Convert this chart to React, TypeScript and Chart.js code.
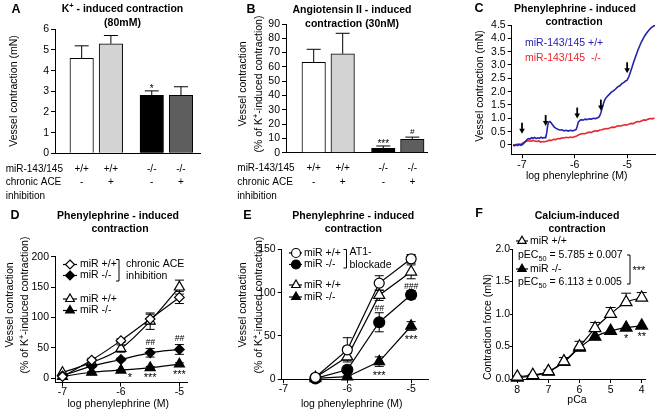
import React, { useEffect, useRef } from 'react';
import { Chart, registerables } from 'chart.js';

Chart.register(...registerables);

const FONT = "'Liberation Sans', Arial, Helvetica, sans-serif";
const W = 660;
const H = 412;
Chart.defaults.font.family = FONT;

// ---------------- Panel A : K+ induced contraction ----------------
const aGenotype = ['+/+', '+/+', '-/-', '-/-'];
const aAce = ['-', '+', '-', '+'];
const aValues = [4.6, 5.3, 2.8, 2.8];
const aErrors = [0.6, 0.4, 0.22, 0.42];
const aMarks = ['', '', '*', ''];
const aYTicks = [0, 1, 2, 3, 4, 5, 6];

// ---------------- Panel B : Angiotensin II ----------------
const bGenotype = ['+/+', '+/+', '-/-', '-/-'];
const bAce = ['-', '+', '-', '+'];
const bValues = [63.2, 69.2, 3.1, 9.4];
const bErrors = [9.1, 14.3, 1.6, 1.5];
const bMarks = ['', '', '***', '#'];
const bYTicks = [0, 10, 20, 30, 40, 50, 60, 70, 80, 90];

const barColors = ['#ffffff', '#d3d3d3', '#000000', '#5e5e5e'];

// ---------------- Panel C : raw traces ----------------
const cBlueTrace = [
  [-7.17, 0.0], [-7.14, -0.03], [-7.11, 0.02], [-7.08, -0.02], [-7.05, 0.03], [-7.02, -0.01], [-7.0, 0.01],
  [-6.97, 0.05], [-6.94, 0.12], [-6.91, 0.18], [-6.88, 0.24], [-6.85, 0.22], [-6.82, 0.27], [-6.79, 0.25],
  [-6.76, 0.28], [-6.73, 0.24], [-6.7, 0.27], [-6.67, 0.25], [-6.64, 0.29], [-6.61, 0.26], [-6.58, 0.28],
  [-6.55, 0.27], [-6.53, 0.45], [-6.51, 0.75], [-6.49, 0.86], [-6.47, 0.88], [-6.45, 0.84], [-6.42, 0.76],
  [-6.39, 0.68], [-6.36, 0.63], [-6.32, 0.59], [-6.28, 0.56], [-6.24, 0.57], [-6.2, 0.53], [-6.16, 0.55],
  [-6.12, 0.52], [-6.08, 0.55], [-6.04, 0.53], [-6.0, 0.55], [-5.97, 0.58], [-5.95, 0.7], [-5.93, 0.85],
  [-5.9, 0.92], [-5.87, 0.95], [-5.84, 0.93], [-5.8, 0.97], [-5.76, 0.95], [-5.72, 0.98], [-5.68, 0.97],
  [-5.64, 1.0], [-5.6, 0.99], [-5.56, 1.02], [-5.53, 1.06], [-5.5, 1.2], [-5.47, 1.42], [-5.44, 1.62],
  [-5.41, 1.75], [-5.38, 1.82], [-5.34, 1.9], [-5.3, 1.98], [-5.26, 2.03], [-5.22, 2.1], [-5.18, 2.18],
  [-5.14, 2.22], [-5.1, 2.3], [-5.06, 2.35], [-5.03, 2.4], [-5.0, 2.43], [-4.97, 2.55], [-4.94, 2.72],
  [-4.91, 2.9], [-4.88, 3.08], [-4.85, 3.25], [-4.82, 3.42], [-4.79, 3.58], [-4.76, 3.72], [-4.73, 3.86],
  [-4.7, 3.97], [-4.67, 4.08], [-4.64, 4.17], [-4.61, 4.25], [-4.58, 4.32], [-4.55, 4.38], [-4.52, 4.43],
  [-4.49, 4.47], [-4.47, 4.49],
];
const cRedTrace = [
  [-7.17, 0.02], [-7.12, -0.01], [-7.08, 0.03], [-7.04, 0.0], [-7.0, 0.06], [-6.96, 0.1], [-6.92, 0.14],
  [-6.88, 0.16], [-6.84, 0.14], [-6.8, 0.17], [-6.76, 0.15], [-6.72, 0.13], [-6.68, 0.15], [-6.64, 0.11],
  [-6.6, 0.13], [-6.56, 0.12], [-6.52, 0.15], [-6.48, 0.18], [-6.44, 0.17], [-6.4, 0.21], [-6.36, 0.2],
  [-6.32, 0.24], [-6.28, 0.23], [-6.24, 0.27], [-6.2, 0.26], [-6.16, 0.29], [-6.12, 0.27], [-6.08, 0.3],
  [-6.04, 0.28], [-6.0, 0.31], [-5.96, 0.34], [-5.92, 0.38], [-5.88, 0.41], [-5.84, 0.43], [-5.8, 0.42],
  [-5.76, 0.46], [-5.72, 0.48], [-5.68, 0.47], [-5.64, 0.51], [-5.6, 0.53], [-5.56, 0.52], [-5.52, 0.56],
  [-5.48, 0.57], [-5.44, 0.6], [-5.4, 0.62], [-5.36, 0.61], [-5.32, 0.65], [-5.28, 0.67], [-5.24, 0.66],
  [-5.2, 0.7], [-5.16, 0.72], [-5.12, 0.71], [-5.08, 0.74], [-5.04, 0.76], [-5.0, 0.75], [-4.96, 0.79],
  [-4.92, 0.81], [-4.88, 0.8], [-4.84, 0.85], [-4.8, 0.88], [-4.76, 0.87], [-4.72, 0.91], [-4.68, 0.94],
  [-4.64, 0.93], [-4.6, 0.97], [-4.56, 0.99], [-4.52, 0.98], [-4.48, 1.01],
];
const cArrowX = [-7, -6.55, -5.95, -5.5, -5];
const cArrowTip = [0.42, 0.71, 0.99, 1.29, 2.69];
const cYTicks = [0, 0.5, 1, 1.5, 2, 2.5, 3, 3.5, 4, 4.5];
const cXTicks = [-7, -6, -5];

// ---------------- Panel D ----------------
const dDose = [-7, -6.5, -6, -5.5, -5];
const dAceWT = [3, 30, 62, 97.5, 133];
const dAceWTErr = [0, 3, 3, 8, 10];
const dAceKO = [4, 20, 31, 42, 47.5];
const dAceKOErr = [0, 2, 2, 7, 8];
const dWT = [9.5, 26, 49, 94, 150];
const dWTErr = [0, 3, 6, 13.5, 11.5];
const dKO = [3, 10, 13.5, 17.5, 23.5];
const dKOErr = [0, 1, 1, 2, 2];
const dHash = ['', '', '', '##', '##'];
const dStars = ['', '', '*', '***', '***'];
const dXTicks = [-7, -6, -5];
const dYTicks = [0, 50, 100, 150, 200];

// ---------------- Panel E ----------------
const eDose = [-6.5, -6, -5.5, -5];
const eAtWT = [2.3, 34, 111, 139];
const eAtWTErr = [0, 14, 8.5, 5];
const eAtKO = [1, 11, 65.8, 97.5];
const eAtKOErr = [0, 2, 11, 5];
const eWT = [2, 26, 97, 124];
const eWTErr = [0, 4, 6, 8];
const eKO = [1, 3, 20.4, 61.5];
const eKOErr = [0, 1, 5.5, 5];
const eHash = ['', '', '##', '###'];
const eStars = ['', '', '***', '***'];
const eXTicks = [-7, -6, -5];
const eYTicks = [0, 50, 100, 150];

// ---------------- Panel F ----------------
const fPCa = [8, 7.5, 7, 6.5, 6, 5.5, 5, 4.5, 4];
const fWT = [0.036, 0.06, 0.12, 0.27, 0.5, 0.78, 1.0, 1.18, 1.25];
const fWTErr = [0.01, 0.01, 0.02, 0.06, 0.08, 0.09, 0.1, 0.14, 0.08];
const fKO = [0.02, 0.05, 0.11, 0.26, 0.48, 0.65, 0.74, 0.79, 0.82];
const fStars = ['', '', '', '', '', '', '', '*', '**'];
const fXTicks = [8, 7, 6, 5, 4];
const fYTicks = [0, 0.5, 1, 1.5, 2];

// ---------------- helpers ----------------
type Area = { l: number; t: number; r: number; b: number };
type Seg = { t: string; sup?: boolean; sub?: boolean };
type Ctx = CanvasRenderingContext2D;

function fontStr(size: number, bold = false, italic = false) {
  return `${italic ? 'italic ' : ''}${bold ? 'bold ' : ''}${size}px ${FONT}`;
}

function drawText(
  ctx: Ctx, s: string, x: number, y: number, size: number,
  o: { bold?: boolean; italic?: boolean; align?: CanvasTextAlign; color?: string } = {}
) {
  ctx.font = fontStr(size, o.bold, o.italic);
  ctx.fillStyle = o.color || '#000';
  ctx.textAlign = o.align || 'left';
  ctx.textBaseline = 'middle';
  ctx.fillText(s, x, y);
}

function drawRich(ctx: Ctx, segs: Seg[], x: number, y: number, size: number, bold: boolean, align: 'left' | 'center' | 'right') {
  const sizes = segs.map((s) => (s.sup || s.sub ? size * 0.7 : size));
  const widths = segs.map((s, i) => {
    ctx.font = fontStr(sizes[i], bold);
    return ctx.measureText(s.t).width;
  });
  const total = widths.reduce((a, b) => a + b, 0);
  let cx = align === 'left' ? x : align === 'center' ? x - total / 2 : x - total;
  ctx.textAlign = 'left';
  ctx.textBaseline = 'middle';
  ctx.fillStyle = '#000';
  segs.forEach((s, i) => {
    ctx.font = fontStr(sizes[i], bold);
    const dy = s.sup ? -size * 0.33 : s.sub ? size * 0.3 : 0;
    ctx.fillText(s.t, cx, y + dy);
    cx += widths[i];
  });
}

function drawVertical(ctx: Ctx, segs: Seg[], x: number, y: number, size: number) {
  ctx.save();
  ctx.translate(x, y);
  ctx.rotate(-Math.PI / 2);
  drawRich(ctx, segs, 0, 0, size, false, 'center');
  ctx.restore();
}

function drawMark(ctx: Ctx, s: string, x: number, y: number, size: number, italic = false) {
  const dy = s.includes('*') ? size * 0.23 : 0;
  drawText(ctx, s, x, y + dy, size, { align: 'center', italic });
}

function drawMarker(ctx: Ctx, style: string, x: number, y: number, r: number, filled: boolean) {
  ctx.beginPath();
  if (style === 'circle') {
    ctx.arc(x, y, r, 0, Math.PI * 2);
  } else if (style === 'triangle') {
    for (let k = 0; k < 3; k++) {
      const a = (k * 2 * Math.PI) / 3;
      const px = x + Math.sin(a) * r;
      const py = y - Math.cos(a) * r;
      if (k === 0) ctx.moveTo(px, py);
      else ctx.lineTo(px, py);
    }
  } else {
    ctx.moveTo(x, y - r);
    ctx.lineTo(x + r, y);
    ctx.lineTo(x, y + r);
    ctx.lineTo(x - r, y);
  }
  ctx.closePath();
  ctx.fillStyle = filled ? '#000' : '#fff';
  ctx.fill();
  ctx.strokeStyle = '#000';
  ctx.lineWidth = 1.2;
  ctx.stroke();
}

function drawLegendRow(ctx: Ctx, style: string, filled: boolean, x1: number, x2: number, xm: number, y: number, r: number, label: string, tx: number) {
  ctx.strokeStyle = '#000';
  ctx.lineWidth = 1.2;
  ctx.beginPath();
  ctx.moveTo(x1, y);
  ctx.lineTo(x2, y);
  ctx.stroke();
  drawMarker(ctx, style, xm, y, r, filled);
  drawText(ctx, label, tx, y, 10.5);
}

function drawBracket(ctx: Ctx, x: number, y1: number, y2: number, tick: number) {
  ctx.strokeStyle = '#000';
  ctx.lineWidth = 1;
  ctx.beginPath();
  ctx.moveTo(x - tick, y1);
  ctx.lineTo(x, y1);
  ctx.lineTo(x, y2);
  ctx.lineTo(x - tick, y2);
  ctx.stroke();
}

function drawErrors(chart: any, ctx: Ctx, di: number, values: number[], errs: number[], cap: number, upOnly = false) {
  const meta = chart.getDatasetMeta(di);
  const ys = chart.scales.y;
  ctx.strokeStyle = '#000';
  ctx.lineWidth = 1;
  meta.data.forEach((pt: any, i: number) => {
    const e = errs[i];
    if (!e) return;
    const y1 = ys.getPixelForValue(values[i] + e);
    const y2 = upOnly ? pt.y : ys.getPixelForValue(values[i] - e);
    ctx.beginPath();
    ctx.moveTo(pt.x, y1);
    ctx.lineTo(pt.x, y2);
    ctx.moveTo(pt.x - cap / 2, y1);
    ctx.lineTo(pt.x + cap / 2, y1);
    if (!upOnly) {
      ctx.moveTo(pt.x - cap / 2, y2);
      ctx.lineTo(pt.x + cap / 2, y2);
    }
    ctx.stroke();
  });
}

function yScale(area: Area, min: number, max: number, ticks: number[], fmt: (v: number) => string, tickLength = 4, padding = 2) {
  return {
    type: 'linear', position: 'left', min, max,
    afterFit: (s: any) => { s.width = area.l; },
    afterBuildTicks: (s: any) => { s.ticks = ticks.map((v) => ({ value: v })); },
    border: { display: true, color: '#000', width: 1 },
    grid: { display: true, drawOnChartArea: false, drawTicks: true, tickLength, color: '#000', tickColor: '#000', lineWidth: 1 },
    ticks: { color: '#000', font: { family: FONT, size: 10.5 }, padding, autoSkip: false, callback: (v: any) => fmt(Number(v)) },
  };
}

function xScale(area: Area, min: number, max: number, ticks: number[] | null, fmt: (v: number) => string, padding = 1, reverse = false) {
  const show = !!ticks;
  const sc: any = {
    type: 'linear', position: 'bottom', min, max, reverse, offset: false,
    afterFit: (s: any) => { s.height = H - area.b; },
    border: { display: true, color: '#000', width: 1 },
    grid: { display: true, offset: false, drawOnChartArea: false, drawTicks: show, tickLength: 4, color: '#000', tickColor: '#000', lineWidth: 1 },
    ticks: { display: show, color: '#000', font: { family: FONT, size: 10.5 }, padding, autoSkip: false, maxRotation: 0, callback: (v: any) => fmt(Number(v)) },
  };
  if (ticks) sc.afterBuildTicks = (s: any) => { s.ticks = ticks.map((v) => ({ value: v })); };
  return sc;
}

function baseOptions(area: Area, scales: any) {
  return {
    responsive: false,
    animation: false,
    devicePixelRatio: 1,
    events: [],
    layout: { padding: { left: 0, top: area.t, right: W - area.r, bottom: 0 } },
    plugins: { legend: { display: false }, tooltip: { enabled: false }, title: { display: false } },
    scales,
  };
}

function overlay(id: string, after: (chart: any, ctx: Ctx) => void, before?: (chart: any, ctx: Ctx) => void) {
  return {
    id,
    beforeDatasetsDraw(chart: any) {
      if (!before) return;
      const ctx = chart.ctx;
      ctx.save();
      before(chart, ctx);
      ctx.restore();
    },
    afterDraw(chart: any) {
      const ctx = chart.ctx;
      ctx.save();
      after(chart, ctx);
      ctx.restore();
    },
  };
}

function series(xs: number[], ys: number[], style: string, filled: boolean, r: number, smooth: boolean) {
  return {
    data: xs.map((x, i) => ({ x, y: ys[i] })),
    showLine: true,
    borderColor: '#000',
    borderWidth: 1.2,
    pointStyle: style,
    pointRadius: r,
    pointBackgroundColor: filled ? '#000' : '#fff',
    pointBorderColor: '#000',
    pointBorderWidth: 1.2,
    tension: smooth ? 0.4 : 0,
    cubicInterpolationMode: smooth ? 'monotone' : 'default',
    clip: false,
  };
}

const groupPos = (i: number) => i + (i >= 2 ? 0.4 : 0);

const yTitle2: Seg[] = [{ t: '(% of K' }, { t: '+', sup: true }, { t: '-induced contraction)' }];

// ---------------- configs ----------------
function barConfig(
  area: Area, xmin: number, xmax: number, values: number[], errors: number[], yMax: number, yTicks: number[],
  draw: (chart: any, ctx: Ctx, tops: number[], xs: number[]) => void
) {
  const pos = values.map((_, i) => groupPos(i));
  return {
    type: 'bar',
    data: {
      datasets: [{
        data: values.map((v, i) => ({ x: pos[i], y: v })),
        backgroundColor: barColors,
        borderColor: '#000',
        borderWidth: 1,
        barThickness: 23.5,
      }],
    },
    options: baseOptions(area, {
      x: xScale(area, xmin, xmax, null, (v) => String(v)),
      y: yScale(area, 0, yMax, yTicks, (v) => String(v)),
    }),
    plugins: [overlay('bars', (chart, ctx) => {
      const ys = chart.scales.y;
      const meta = chart.getDatasetMeta(0);
      ctx.strokeStyle = '#000';
      ctx.lineWidth = 1;
      const tops: number[] = [];
      const xs: number[] = [];
      meta.data.forEach((bar: any, i: number) => {
        const y0 = ys.getPixelForValue(values[i]);
        const y1 = ys.getPixelForValue(values[i] + errors[i]);
        ctx.beginPath();
        ctx.moveTo(bar.x, y0);
        ctx.lineTo(bar.x, y1);
        ctx.moveTo(bar.x - 7, y1);
        ctx.lineTo(bar.x + 7, y1);
        ctx.stroke();
        tops.push(y1);
        xs.push(bar.x);
      });
      draw(chart, ctx, tops, xs);
    })],
  };
}

function configA() {
  const area = { l: 55, t: 29.3, r: 200, b: 153.3 };
  return barConfig(area, -0.914, 4.052, aValues, aErrors, 6, aYTicks, (chart, ctx, tops, xs) => {
    aMarks.forEach((m, i) => { if (m) drawMark(ctx, m, xs[i], tops[i] - 4, 10); });
    drawText(ctx, 'A', 16, 9.5, 12.5, { bold: true, align: 'center' });
    drawRich(ctx, [{ t: 'K' }, { t: '+', sup: true }, { t: ' - induced contraction' }], 122.5, 9.5, 10.5, true, 'center');
    drawText(ctx, '(80mM)', 122.5, 23.5, 10.5, { bold: true, align: 'center' });
    drawVertical(ctx, [{ t: 'Vessel contraction (mN)' }], 14, 91, 10.5);
    drawText(ctx, 'miR-143/145', 5.7, 169.3, 10);
    drawText(ctx, 'chronic ACE', 5.7, 182.7, 10);
    drawText(ctx, 'inhibition', 5.7, 196.7, 10);
    aGenotype.forEach((g, i) => drawText(ctx, g, xs[i], 169.3, 10, { align: 'center' }));
    aAce.forEach((g, i) => drawText(ctx, g, xs[i], 182.7, 10, { align: 'center' }));
  });
}

function configB() {
  const area = { l: 286, t: 24, r: 427, b: 152.7 };
  return barConfig(area, -0.955, 3.907, bValues, bErrors, 90, bYTicks, (chart, ctx, tops, xs) => {
    bMarks.forEach((m, i) => {
      if (!m) return;
      if (m === '#') drawMark(ctx, m, xs[i], tops[i] - 5.5, 8, true);
      else drawMark(ctx, m, xs[i], tops[i] - 4, 10);
    });
    drawText(ctx, 'B', 251, 10, 12.5, { bold: true, align: 'center' });
    drawText(ctx, 'Angiotensin II - induced', 352, 10, 10.5, { bold: true, align: 'center' });
    drawText(ctx, 'contraction (30nM)', 352, 24, 10.5, { bold: true, align: 'center' });
    drawVertical(ctx, [{ t: 'Vessel contraction' }], 243.3, 84, 10.5);
    drawVertical(ctx, yTitle2, 259.5, 84, 10.5);
    drawText(ctx, 'miR-143/145', 237.3, 168.3, 10);
    drawText(ctx, 'chronic ACE', 237.3, 182.7, 10);
    drawText(ctx, 'inhibition', 237.3, 196.3, 10);
    bGenotype.forEach((g, i) => drawText(ctx, g, xs[i], 168.3, 10, { align: 'center' }));
    bAce.forEach((g, i) => drawText(ctx, g, xs[i], 182.7, 10, { align: 'center' }));
  });
}

function configC() {
  const area = { l: 511.7, t: 25, r: 655, b: 154.3 };
  const blue = '#2323ad';
  const red = '#e8262b';
  const line = (pts: number[][], color: string) => ({
    data: pts.map((p) => ({ x: p[0], y: p[1] })),
    showLine: true,
    borderColor: color,
    borderWidth: 1.6,
    pointRadius: 0,
    tension: 0,
  });
  return {
    type: 'scatter',
    data: { datasets: [line(cBlueTrace, blue), line(cRedTrace, red)] },
    options: baseOptions(area, {
      x: xScale(area, -7.196, -4.47, cXTicks, (v) => String(v), 1),
      y: yScale(area, -0.35, 4.5, cYTicks, (v) => (v === 0 ? '0' : v.toFixed(1))),
    }),
    plugins: [overlay('c', (chart, ctx) => {
      const xs = chart.scales.x;
      const ys = chart.scales.y;
      ctx.fillStyle = '#000';
      ctx.strokeStyle = '#000';
      cArrowX.forEach((ax, i) => {
        const px = xs.getPixelForValue(ax);
        const tip = ys.getPixelForValue(cArrowTip[i]);
        ctx.lineWidth = 1.8;
        ctx.beginPath();
        ctx.moveTo(px, tip - 11);
        ctx.lineTo(px, tip - 4);
        ctx.stroke();
        ctx.beginPath();
        ctx.moveTo(px - 2.8, tip - 5);
        ctx.lineTo(px + 2.8, tip - 5);
        ctx.lineTo(px, tip);
        ctx.closePath();
        ctx.fill();
      });
      drawText(ctx, 'C', 479, 8.5, 12.5, { bold: true, align: 'center' });
      drawText(ctx, 'Phenylephrine - induced', 575, 9, 10.5, { bold: true, align: 'center' });
      drawText(ctx, 'contraction', 574, 22.5, 10.5, { bold: true, align: 'center' });
      drawVertical(ctx, [{ t: 'Vessel contraction (mN)' }], 480, 86, 10.5);
      drawText(ctx, 'log phenylephrine (M)', 576.7, 176, 10.5, { align: 'center' });
      drawText(ctx, 'miR-143/145 +/+', 525, 43.3, 10.5, { color: blue });
      drawText(ctx, 'miR-143/145  -/-', 525, 58.3, 10.5, { color: red });
    })],
  };
}

function configD() {
  const area = { l: 55, t: 256.7, r: 187, b: 382.6 };
  return {
    type: 'scatter',
    data: {
      datasets: [
        series(dDose, dAceWT, 'rectRot', false, 4.8, true),
        series(dDose, dAceKO, 'rectRot', true, 4.8, true),
        series(dDose, dWT, 'triangle', false, 5.8, true),
        series(dDose, dKO, 'triangle', true, 5.8, true),
      ],
    },
    options: baseOptions(area, {
      x: xScale(area, -7.128, -4.87, dXTicks, (v) => String(v), -1),
      y: yScale(area, -7, 200, dYTicks, (v) => String(v)),
    }),
    plugins: [overlay('d', (chart, ctx) => {
      const xs = chart.scales.x;
      const ys = chart.scales.y;
      dHash.forEach((m, i) => {
        if (!m) return;
        const y = ys.getPixelForValue(dAceKO[i] + dAceKOErr[i]) - 6;
        drawMark(ctx, m, xs.getPixelForValue(dDose[i]), y, 8.5, true);
      });
      dStars.forEach((m, i) => {
        if (!m) return;
        const py = ys.getPixelForValue(dKO[i]);
        const px = xs.getPixelForValue(dDose[i]);
        drawMark(ctx, m, px + (m === '*' ? 9 : 0), py + (m === '*' ? 5 : 8), 11);
      });
      drawText(ctx, 'D', 15, 216, 12.5, { bold: true, align: 'center' });
      drawText(ctx, 'Phenylephrine - induced', 118, 216, 10.5, { bold: true, align: 'center' });
      drawText(ctx, 'contraction', 120, 229.5, 10.5, { bold: true, align: 'center' });
      drawVertical(ctx, [{ t: 'Vessel contraction' }], 10, 305, 10.5);
      drawVertical(ctx, yTitle2, 25.5, 305, 10.5);
      drawText(ctx, 'log phenylephrine (M)', 118.3, 404, 10.5, { align: 'center' });
      drawLegendRow(ctx, 'diamond', false, 63, 77, 70, 264.5, 4.5, 'miR +/+', 80);
      drawLegendRow(ctx, 'diamond', true, 63, 77, 70, 275.5, 4.5, 'miR -/-', 80);
      drawBracket(ctx, 119, 259.5, 281, 3);
      drawText(ctx, 'chronic ACE', 126, 264, 10.5);
      drawText(ctx, 'inhibition', 126, 276, 10.5);
      drawLegendRow(ctx, 'triangle', false, 63, 77, 70, 299, 5, 'miR +/+', 80);
      drawLegendRow(ctx, 'triangle', true, 63, 77, 70, 310.5, 5, 'miR -/-', 80);
    }, (chart, ctx) => {
      drawErrors(chart, ctx, 0, dAceWT, dAceWTErr, 9);
      drawErrors(chart, ctx, 1, dAceKO, dAceKOErr, 9);
      drawErrors(chart, ctx, 2, dWT, dWTErr, 9);
      drawErrors(chart, ctx, 3, dKO, dKOErr, 9);
    })],
  };
}

function configE() {
  const area = { l: 281.7, t: 249.3, r: 429, b: 379.3 };
  return {
    type: 'scatter',
    data: {
      datasets: [
        series(eDose, eAtWT, 'circle', false, 5, false),
        series(eDose, eAtKO, 'circle', true, 5.5, false),
        series(eDose, eWT, 'triangle', false, 6.4, false),
        series(eDose, eKO, 'triangle', true, 6.2, false),
      ],
    },
    options: baseOptions(area, {
      x: xScale(area, -7.028, -4.72, eXTicks, (v) => String(v), 0),
      y: yScale(area, 0, 150, eYTicks, (v) => String(v)),
    }),
    plugins: [overlay('e', (chart, ctx) => {
      const xs = chart.scales.x;
      const ys = chart.scales.y;
      eHash.forEach((m, i) => {
        if (!m) return;
        const y = ys.getPixelForValue(eAtKO[i] + eAtKOErr[i]) - 4;
        drawMark(ctx, m, xs.getPixelForValue(eDose[i]), y, 8.5, true);
      });
      eStars.forEach((m, i) => {
        if (!m) return;
        const py = ys.getPixelForValue(eKO[i]);
        drawMark(ctx, m, xs.getPixelForValue(eDose[i]), py + 11.5, 11);
      });
      drawText(ctx, 'E', 247.5, 216, 12.5, { bold: true, align: 'center' });
      drawText(ctx, 'Phenylephrine - induced', 353.3, 216, 10.5, { bold: true, align: 'center' });
      drawText(ctx, 'contraction', 353.3, 229.5, 10.5, { bold: true, align: 'center' });
      drawVertical(ctx, [{ t: 'Vessel contraction' }], 243.3, 305, 10.5);
      drawVertical(ctx, yTitle2, 259, 305, 10.5);
      drawText(ctx, 'log phenylephrine (M)', 351.7, 404, 10.5, { align: 'center' });
      drawLegendRow(ctx, 'circle', false, 289, 302, 296, 253, 4.5, 'miR +/+', 304);
      drawLegendRow(ctx, 'circle', true, 289, 302, 296, 264.5, 4.5, 'miR -/-', 304);
      drawBracket(ctx, 346.5, 249.5, 268, 3);
      drawText(ctx, 'AT1-', 349.5, 252.5, 10.5);
      drawText(ctx, 'blockade', 349.5, 265, 10.5);
      drawLegendRow(ctx, 'triangle', false, 289, 302, 296, 285, 5, 'miR +/+', 304);
      drawLegendRow(ctx, 'triangle', true, 289, 302, 296, 297, 5, 'miR -/-', 304);
    }, (chart, ctx) => {
      drawErrors(chart, ctx, 0, eAtWT, eAtWTErr, 9);
      drawErrors(chart, ctx, 1, eAtKO, eAtKOErr, 9);
      drawErrors(chart, ctx, 2, eWT, eWTErr, 9);
      drawErrors(chart, ctx, 3, eKO, eKOErr, 9);
    })],
  };
}

function configF() {
  const area = { l: 512, t: 249, r: 645, b: 379 };
  return {
    type: 'scatter',
    data: {
      datasets: [
        series(fPCa, fWT, 'triangle', false, 6.8, true),
        series(fPCa, fKO, 'triangle', true, 6.8, true),
      ],
    },
    options: baseOptions(area, {
      x: xScale(area, 3.894, 8.17, fXTicks, (v) => String(v), 1, true),
      y: yScale(area, 0, 2, fYTicks, (v) => v.toFixed(1), 2, 0),
    }),
    plugins: [overlay('f', (chart, ctx) => {
      const xs = chart.scales.x;
      const ys = chart.scales.y;
      fStars.forEach((m, i) => {
        if (!m) return;
        drawMark(ctx, m, xs.getPixelForValue(fPCa[i]), ys.getPixelForValue(fKO[i]) + 9, 11);
      });
      drawText(ctx, 'F', 479, 214, 12.5, { bold: true, align: 'center' });
      drawText(ctx, 'Calcium-induced', 577, 216, 10.5, { bold: true, align: 'center' });
      drawText(ctx, 'contraction', 577, 229.5, 10.5, { bold: true, align: 'center' });
      drawVertical(ctx, [{ t: 'Contraction force (mN)' }], 488.5, 327, 10.5);
      drawText(ctx, 'pCa', 577, 400, 10.5, { align: 'center' });
      drawLegendRow(ctx, 'triangle', false, 516, 528, 522, 241, 4.8, 'miR +/+', 530);
      drawRich(ctx, [{ t: 'pEC' }, { t: '50', sub: true }, { t: ' = 5.785 ± 0.007' }], 518, 255.5, 10.5, false, 'left');
      drawLegendRow(ctx, 'triangle', true, 516, 528, 522, 269, 4.8, 'miR -/-', 530);
      drawRich(ctx, [{ t: 'pEC' }, { t: '50', sub: true }, { t: ' = 6.113 ± 0.005' }], 518, 282.5, 10.5, false, 'left');
      drawBracket(ctx, 630, 255, 284, 3);
      drawText(ctx, '***', 632.5, 270.5, 11);
    }, (chart, ctx) => {
      drawErrors(chart, ctx, 0, fWT, fWTErr, 10, true);
    })],
  };
}

export default function App() {
  const refs = useRef<(HTMLCanvasElement | null)[]>([]);
  useEffect(() => {
    const configs = [configA(), configB(), configC(), configD(), configE(), configF()];
    const charts = configs.map((cfg, i) => new Chart(refs.current[i] as HTMLCanvasElement, cfg as any));
    return () => charts.forEach((c) => c.destroy());
  }, []);
  return (
    <div style={{ position: 'absolute', left: 0, top: 0, width: W, height: H, background: '#fff', overflow: 'hidden' }}>
      {[0, 1, 2, 3, 4, 5].map((i) => (
        <canvas
          key={i}
          ref={(el) => { refs.current[i] = el; }}
          width={W}
          height={H}
          style={{ position: 'absolute', left: 0, top: 0, width: W, height: H }}
        />
      ))}
    </div>
  );
}
